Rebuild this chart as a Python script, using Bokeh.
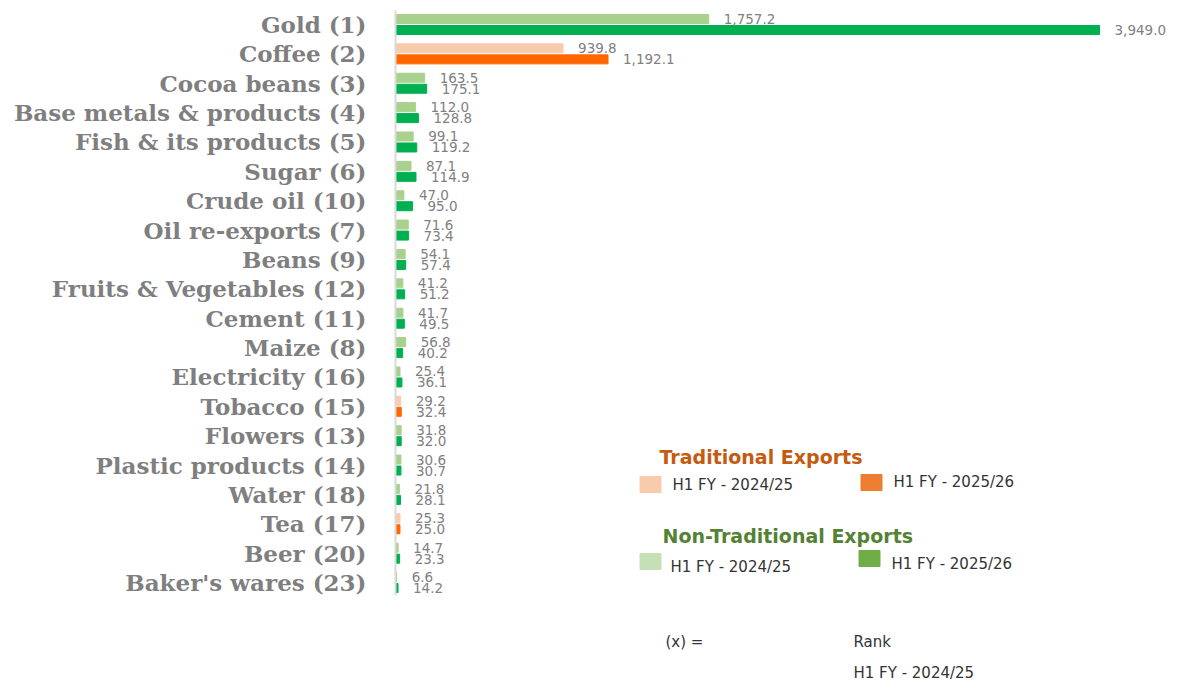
from bokeh.plotting import figure
from bokeh.models import ColumnDataSource, Range1d, FixedTicker, Label
from bokeh.core.properties import value
from bokeh.embed import file_html
from bokeh.resources import INLINE

categories = ["Gold (1)", "Coffee (2)", "Cocoa beans (3)", "Base metals & products (4)",
              "Fish & its products (5)", "Sugar (6)", "Crude oil (10)", "Oil re-exports (7)",
              "Beans (9)", "Fruits & Vegetables (12)", "Cement (11)", "Maize (8)",
              "Electricity (16)", "Tobacco (15)", "Flowers (13)", "Plastic products (14)",
              "Water (18)", "Tea (17)", "Beer (20)", "Baker's wares (23)"]
h1_2024_25 = [1757.2, 939.8, 163.5, 112.0, 99.1, 87.1, 47.0, 71.6, 54.1, 41.2,
              41.7, 56.8, 25.4, 29.2, 31.8, 30.6, 21.8, 25.3, 14.7, 6.6]
h1_2025_26 = [3949.0, 1192.1, 175.1, 128.8, 119.2, 114.9, 95.0, 73.4, 57.4, 51.2,
              49.5, 40.2, 36.1, 32.4, 32.0, 30.7, 28.1, 25.0, 23.3, 14.2]
export_type = ["N", "T", "N", "N", "N", "N", "N", "N", "N", "N",
               "N", "N", "N", "T", "N", "N", "N", "T", "N", "N"]

LIGHT = {"N": "#a9d18e", "T": "#f8cbad"}
DARK = {"N": "#00b050", "T": "#ff6600"}

# pixel geometry helpers (picture pixels -> data units)
SCALE = 704.0 / 3949.0      # px per unit on x
ROW = 29.37                 # px per row
def dx(px):
    return (px - 395) / SCALE
def dy(py):
    return (py - 24) / ROW

W, H = 1184, 681
p = figure(width=W, height=H, output_backend="svg", toolbar_location=None,
           x_range=Range1d(0, dx(W)), y_range=Range1d(dy(H), dy(0)),
           min_border_left=395, min_border_right=0, min_border_top=0, min_border_bottom=0)
p.outline_line_color = None
p.xgrid.visible = False
p.ygrid.visible = False
p.xaxis.visible = False
p.background_fill_color = "white"
p.border_fill_color = "white"

idx = list(range(len(categories)))
off = 5.5 / ROW
src = ColumnDataSource(dict(
    y_light=[i - off for i in idx],
    y_dark=[i + off for i in idx],
    light=h1_2024_25,
    dark=h1_2025_26,
    c_light=[LIGHT[t] for t in export_type],
    c_dark=[DARK[t] for t in export_type],
    t_light=[f"{v:,.1f}" for v in h1_2024_25],
    t_dark=[f"{v:,.1f}" for v in h1_2025_26],
))

bh = 9.0 / ROW
p.hbar(y="y_light", left=0, right="light", height=bh, color="c_light", source=src)
p.hbar(y="y_dark", left=0, right="dark", height=bh, color="c_dark", source=src)

for xcol, ycol, tcol in (("light", "y_light", "t_light"), ("dark", "y_dark", "t_dark")):
    p.text(x=xcol, y=ycol, text=tcol, source=src, x_offset=15, text_baseline="middle",
           text_align="left", text_font=value("DejaVu Sans"), text_font_size="13.5px",
           text_color="#808080")

ax = p.yaxis[0]
ax.ticker = FixedTicker(ticks=idx)
ax.major_label_overrides = {i: c for i, c in zip(idx, categories)}
ax.major_label_text_font = "DejaVu Serif"
ax.major_label_text_font_style = "bold"
ax.major_label_text_font_size = "23px"
ax.major_label_text_color = "#7f7f7f"
ax.major_label_standoff = 23
ax.major_tick_line_color = None
ax.minor_tick_line_color = None
ax.axis_line_color = "#d9d9d9"
ax.axis_line_width = 2
ax.bounds = (dy(10), dy(595))

def label(px, py, text, color="#333333", size="15px", style="normal"):
    p.add_layout(Label(x=dx(px), y=dy(py), text=text, text_color=color,
                       text_font="DejaVu Sans", text_font_size=size,
                       text_font_style=style, text_baseline="middle", text_align="left"))

# legend
label(659, 456, "Traditional Exports", color="#c55a11", size="19px", style="bold")
label(662, 535, "Non-Traditional Exports", color="#548235", size="19px", style="bold")
sw_x = [dx(650), dx(871), dx(650), dx(869)]
sw_y = [dy(484), dy(482), dy(561), dy(558)]
sw_c = ["#f8cbad", "#ed7d31", "#c5e0b4", "#70ad47"]
p.rect(x=sw_x, y=sw_y, width=21, height=16, width_units="screen", height_units="screen",
       color=sw_c)
label(672, 484, "H1 FY - 2024/25", size="15px")
label(893, 481, "H1 FY - 2025/26", size="15px")
label(670, 566, "H1 FY - 2024/25", size="15px")
label(891, 563, "H1 FY - 2025/26", size="15px")
label(665, 641, "(x) =", size="15px")
label(853, 641, "Rank", size="15px")
label(853, 672, "H1 FY - 2024/25", size="15px")

open("out.html", "w").write(file_html(p, INLINE))
